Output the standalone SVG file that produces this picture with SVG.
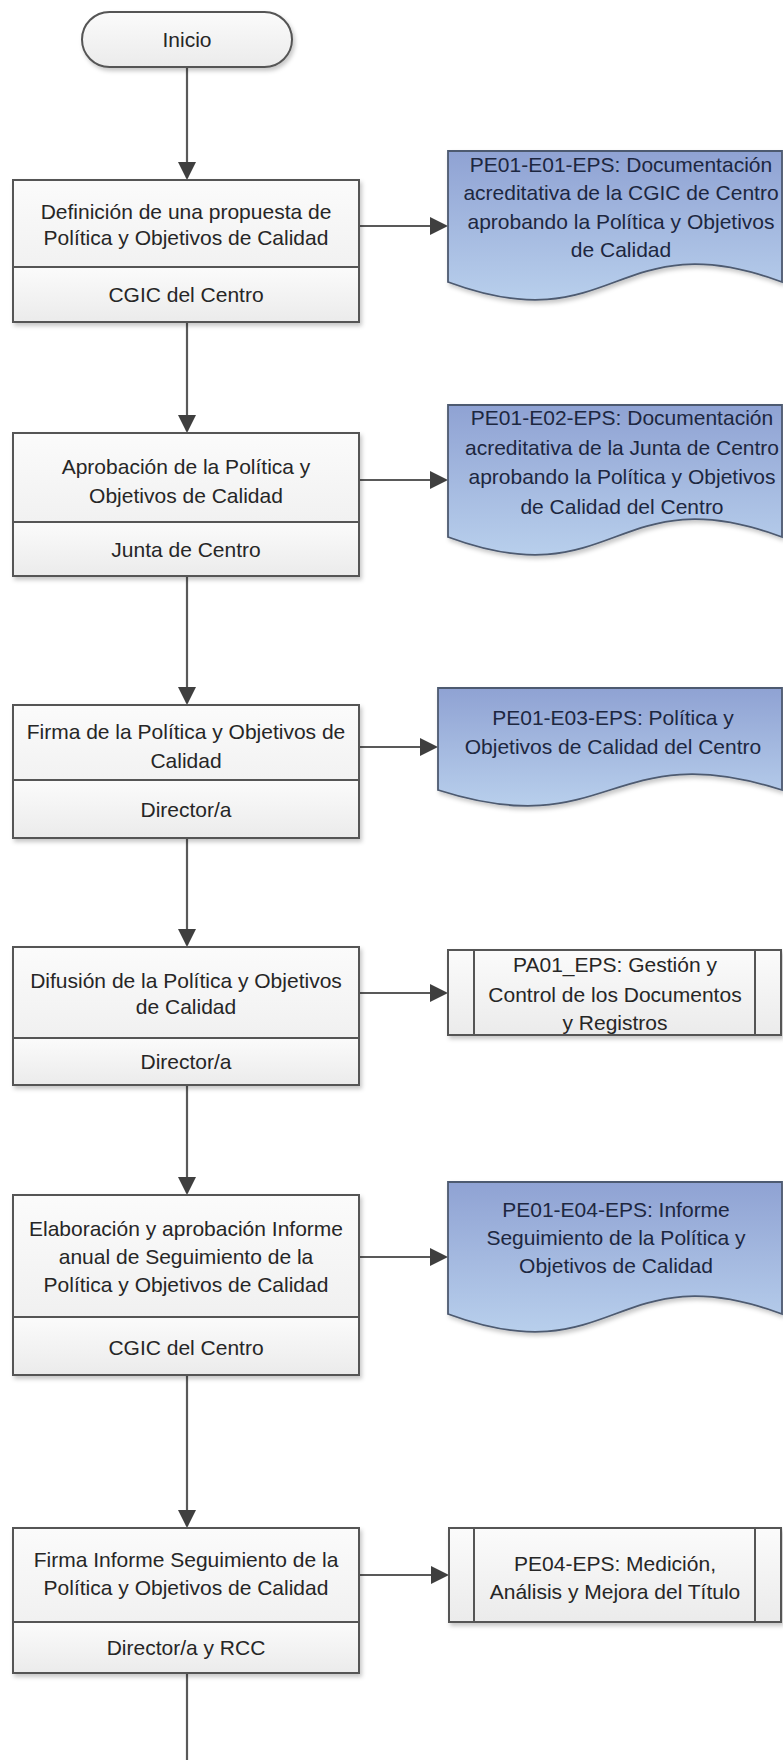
<svg xmlns="http://www.w3.org/2000/svg" width="783" height="1760" viewBox="0 0 783 1760">
<style>
.t{font-family:"Liberation Sans",Arial,sans-serif;font-size:21px;fill:#262626;text-anchor:middle}
.dt{font-family:"Liberation Sans",Arial,sans-serif;font-size:21px;fill:#1d2740;text-anchor:middle}
.box{fill:url(#gBox);stroke:#555;stroke-width:2}
.doc{fill:url(#gDoc);stroke:#4d5a70;stroke-width:1.8}
.pp{fill:url(#gBox);stroke:#555;stroke-width:2}
.in{stroke:#555;stroke-width:2;fill:none}
.c{stroke:#595959;stroke-width:2.2;fill:none}
</style>
<defs>
<linearGradient id="gBox" x1="0" y1="0" x2="0" y2="1">
<stop offset="0" stop-color="#fbfbfb"/><stop offset="1" stop-color="#ebebeb"/>
</linearGradient>
<linearGradient id="gDoc" x1="0" y1="0" x2="0" y2="1">
<stop offset="0" stop-color="#8fa2d3"/><stop offset="1" stop-color="#b8cfec"/>
</linearGradient>
<filter id="sh" x="-5%" y="-5%" width="115%" height="120%">
<feDropShadow dx="2" dy="3" stdDeviation="2" flood-color="#000" flood-opacity="0.22"/>
</filter>
<marker id="ah" markerWidth="18" markerHeight="18" refX="16" refY="9" orient="auto" markerUnits="userSpaceOnUse">
<path d="M0,0 L18,9 L0,18 Z" fill="#3f3f3f"/>
</marker>
</defs>
<rect width="783" height="1760" fill="#fff"/>

<g id="connectors">
<line class="c" x1="187" y1="67" x2="187" y2="178" marker-end="url(#ah)"/>
<line class="c" x1="187" y1="322" x2="187" y2="431" marker-end="url(#ah)"/>
<line class="c" x1="187" y1="576" x2="187" y2="703" marker-end="url(#ah)"/>
<line class="c" x1="187" y1="838" x2="187" y2="945" marker-end="url(#ah)"/>
<line class="c" x1="187" y1="1085" x2="187" y2="1193" marker-end="url(#ah)"/>
<line class="c" x1="187" y1="1375" x2="187" y2="1526" marker-end="url(#ah)"/>
<line class="c" x1="187" y1="1673" x2="187" y2="1760"/>
<line class="c" x1="359" y1="226" x2="446" y2="226" marker-end="url(#ah)"/>
<line class="c" x1="359" y1="480" x2="446" y2="480" marker-end="url(#ah)"/>
<line class="c" x1="359" y1="747" x2="436" y2="747" marker-end="url(#ah)"/>
<line class="c" x1="359" y1="993" x2="446" y2="993" marker-end="url(#ah)"/>
<line class="c" x1="359" y1="1257" x2="446" y2="1257" marker-end="url(#ah)"/>
<line class="c" x1="359" y1="1575" x2="447" y2="1575" marker-end="url(#ah)"/>
</g>

<g id="inicio">
<rect class="box" x="82" y="12" width="210" height="55" rx="27.5" filter="url(#sh)"/>
<text class="t" x="187" y="47">Inicio</text>
</g>

<g id="p1">
<rect class="box" x="13" y="180" width="346" height="142" filter="url(#sh)"/>
<rect class="box" x="13" y="267" width="346" height="55"/>
<text class="t" x="186" y="219">Definición de una propuesta de</text>
<text class="t" x="186" y="245">Política y Objetivos de Calidad</text>
<text class="t" x="186" y="302">CGIC del Centro</text>
</g>

<g id="d1">
<path class="doc" filter="url(#sh)" d="M448,151 H782 V282 C615,220 615,344 448,282 Z"/>
<text class="dt" x="621" y="172">PE01-E01-EPS: Documentación</text>
<text class="dt" x="621" y="200">acreditativa de la CGIC de Centro</text>
<text class="dt" x="621" y="229">aprobando la Política y Objetivos</text>
<text class="dt" x="621" y="257">de Calidad</text>
</g>

<g id="p2">
<rect class="box" x="13" y="433" width="346" height="143" filter="url(#sh)"/>
<rect class="box" x="13" y="522" width="346" height="54"/>
<text class="t" x="186" y="474">Aprobación de la Política y</text>
<text class="t" x="186" y="503">Objetivos de Calidad</text>
<text class="t" x="186" y="557">Junta de Centro</text>
</g>

<g id="d2">
<path class="doc" filter="url(#sh)" d="M448,405 H782 V537 C615,475 615,599 448,537 Z"/>
<text class="dt" x="622" y="425">PE01-E02-EPS: Documentación</text>
<text class="dt" x="622" y="455">acreditativa de la Junta de Centro</text>
<text class="dt" x="622" y="484">aprobando la Política y Objetivos</text>
<text class="dt" x="622" y="514">de Calidad del Centro</text>
</g>

<g id="p3">
<rect class="box" x="13" y="705" width="346" height="133" filter="url(#sh)"/>
<rect class="box" x="13" y="780" width="346" height="58"/>
<text class="t" x="186" y="739">Firma de la Política y Objetivos de</text>
<text class="t" x="186" y="768">Calidad</text>
<text class="t" x="186" y="817">Director/a</text>
</g>

<g id="d3">
<path class="doc" filter="url(#sh)" d="M438,688 H782 V790 C610,735 610,845 438,790 Z"/>
<text class="dt" x="613" y="725">PE01-E03-EPS: Política y</text>
<text class="dt" x="613" y="754">Objetivos de Calidad del Centro</text>
</g>

<g id="p4">
<rect class="box" x="13" y="947" width="346" height="138" filter="url(#sh)"/>
<rect class="box" x="13" y="1038" width="346" height="47"/>
<text class="t" x="186" y="988">Difusión de la Política y Objetivos</text>
<text class="t" x="186" y="1014">de Calidad</text>
<text class="t" x="186" y="1069">Director/a</text>
</g>

<g id="pa01">
<rect class="pp" x="448" y="950" width="333" height="85" filter="url(#sh)"/>
<line class="in" x1="474" y1="950" x2="474" y2="1035"/>
<line class="in" x1="755" y1="950" x2="755" y2="1035"/>
<text class="t" x="615" y="972">PA01_EPS: Gestión y</text>
<text class="t" x="615" y="1002">Control de los Documentos</text>
<text class="t" x="615" y="1030">y Registros</text>
</g>

<g id="p5">
<rect class="box" x="13" y="1195" width="346" height="180" filter="url(#sh)"/>
<rect class="box" x="13" y="1317" width="346" height="58"/>
<text class="t" x="186" y="1236">Elaboración y aprobación Informe</text>
<text class="t" x="186" y="1264">anual de Seguimiento de la</text>
<text class="t" x="186" y="1292">Política y Objetivos de Calidad</text>
<text class="t" x="186" y="1355">CGIC del Centro</text>
</g>

<g id="d4">
<path class="doc" filter="url(#sh)" d="M448,1182 H782 V1314 C615,1252 615,1376 448,1314 Z"/>
<text class="dt" x="616" y="1217">PE01-E04-EPS: Informe</text>
<text class="dt" x="616" y="1245">Seguimiento de la Política y</text>
<text class="dt" x="616" y="1273">Objetivos de Calidad</text>
</g>

<g id="p6">
<rect class="box" x="13" y="1528" width="346" height="145" filter="url(#sh)"/>
<rect class="box" x="13" y="1622" width="346" height="51"/>
<text class="t" x="186" y="1567">Firma Informe Seguimiento de la</text>
<text class="t" x="186" y="1595">Política y Objetivos de Calidad</text>
<text class="t" x="186" y="1655">Director/a y RCC</text>
</g>

<g id="pe04">
<rect class="pp" x="449" y="1528" width="332" height="94" filter="url(#sh)"/>
<line class="in" x1="474" y1="1528" x2="474" y2="1622"/>
<line class="in" x1="755" y1="1528" x2="755" y2="1622"/>
<text class="t" x="615" y="1571">PE04-EPS: Medición,</text>
<text class="t" x="615" y="1599">Análisis y Mejora del Título</text>
</g>
</svg>
